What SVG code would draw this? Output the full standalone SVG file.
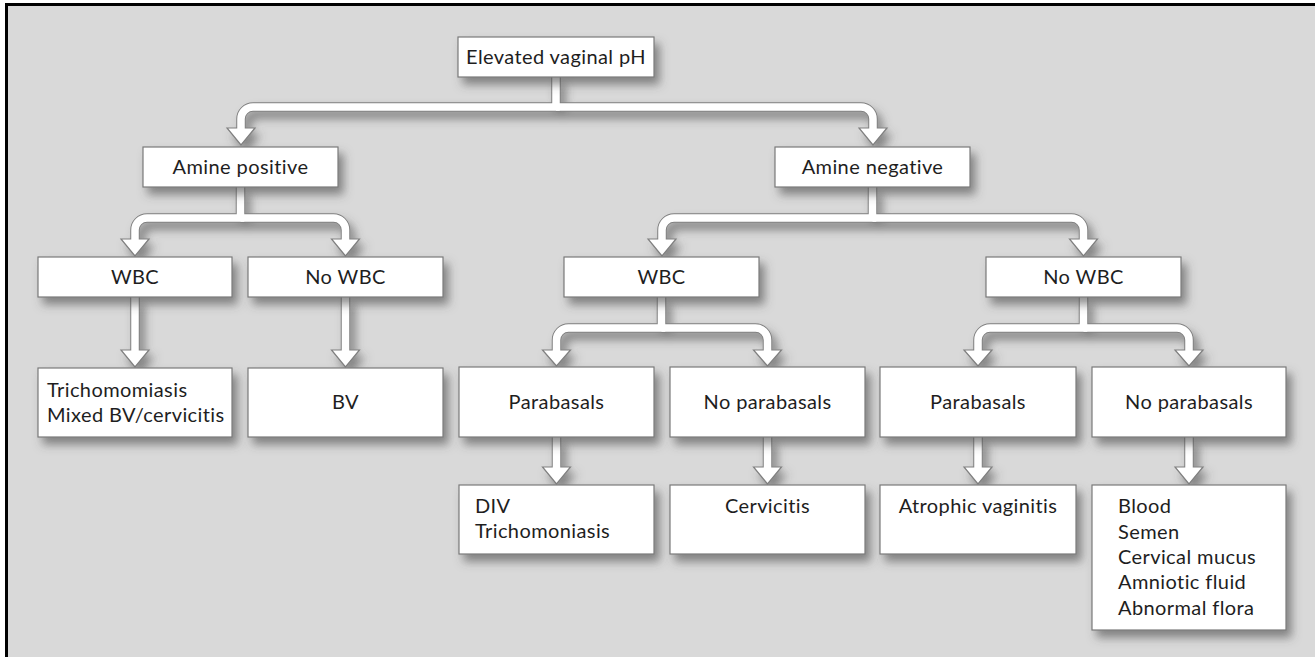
<svg xmlns="http://www.w3.org/2000/svg" width="1315" height="657" viewBox="0 0 1315 657">
<defs>
<filter id="sh" x="-20%" y="-20%" width="150%" height="170%">
<feDropShadow dx="5" dy="7" stdDeviation="5" flood-color="#4a4a4a" flood-opacity="0.6"/>
</filter>
<style>
.box{fill:#fff;stroke:#7a7a7a;stroke-width:1.2}
.t{font-family:Lato,"Open Sans","Liberation Sans",sans-serif;font-size:20px;letter-spacing:0.4px;fill:#1e1e1e}
.c{text-anchor:middle}
.o{fill:none;stroke:#808080;stroke-width:9.5}
.i{fill:none;stroke:#fff;stroke-width:7.5}
.ah{fill:#fff;stroke:#808080;stroke-width:1.2;stroke-linejoin:miter}
</style>
</defs>
<rect width="1315" height="657" fill="#fff"/>
<rect x="5" y="3" width="1310" height="654" fill="#d9d9d9"/>
<line x1="5" y1="4.5" x2="1315" y2="4.5" stroke="#000" stroke-width="3"/>
<line x1="6.5" y1="3" x2="6.5" y2="657" stroke="#000" stroke-width="3"/>

<g id="connectors">
<g filter="url(#sh)">
<g class="o">
<path d="M556,77 V107 H253 A12,12 0 0 0 241,119 V131"/>
<path d="M556,107 H861 A12,12 0 0 1 873,119 V131"/>
<path d="M240.5,187 V218 H147 A12,12 0 0 0 135,230 V241"/>
<path d="M240.5,218 H333.5 A12,12 0 0 1 345.5,230 V241"/>
<path d="M872.5,187 V218 H674 A12,12 0 0 0 662,230 V241"/>
<path d="M872.5,218 H1071.5 A12,12 0 0 1 1083.5,230 V241"/>
<path d="M135,297 V352"/>
<path d="M345.5,297 V352"/>
<path d="M661.5,297 V328 H568.5 A12,12 0 0 0 556.5,340 V352"/>
<path d="M661.5,328 H755.5 A12,12 0 0 1 767.5,340 V352"/>
<path d="M1083.5,297 V328 H990 A12,12 0 0 0 978,340 V352"/>
<path d="M1083.5,328 H1177 A12,12 0 0 1 1189,340 V352"/>
<path d="M556.5,437 V469"/>
<path d="M767.5,437 V469"/>
<path d="M978,437 V469"/>
<path d="M1189,437 V469"/>
</g>
<g class="ah">
<polygon points="227,128 255,128 241,145"/>
<polygon points="859,128 887,128 873,145"/>
<polygon points="121,239 149,239 135,256"/>
<polygon points="331.5,239 359.5,239 345.5,256"/>
<polygon points="648,239 676,239 662,256"/>
<polygon points="1069.5,239 1097.5,239 1083.5,256"/>
<polygon points="121,350 149,350 135,367"/>
<polygon points="331.5,350 359.5,350 345.5,367"/>
<polygon points="542.5,350 570.5,350 556.5,366"/>
<polygon points="753.5,350 781.5,350 767.5,366"/>
<polygon points="964,350 992,350 978,366"/>
<polygon points="1175,350 1203,350 1189,366"/>
<polygon points="542.5,467 570.5,467 556.5,484"/>
<polygon points="753.5,467 781.5,467 767.5,484"/>
<polygon points="964,467 992,467 978,484"/>
<polygon points="1175,467 1203,467 1189,484"/>
</g>
</g>
<g class="i">
<path d="M556,76 V107 H253 A12,12 0 0 0 241,119 V131"/>
<path d="M556,107 H861 A12,12 0 0 1 873,119 V131"/>
<path d="M240.5,186 V218 H147 A12,12 0 0 0 135,230 V241"/>
<path d="M240.5,218 H333.5 A12,12 0 0 1 345.5,230 V241"/>
<path d="M872.5,186 V218 H674 A12,12 0 0 0 662,230 V241"/>
<path d="M872.5,218 H1071.5 A12,12 0 0 1 1083.5,230 V241"/>
<path d="M135,296 V352"/>
<path d="M345.5,296 V352"/>
<path d="M661.5,296 V328 H568.5 A12,12 0 0 0 556.5,340 V352"/>
<path d="M661.5,328 H755.5 A12,12 0 0 1 767.5,340 V352"/>
<path d="M1083.5,296 V328 H990 A12,12 0 0 0 978,340 V352"/>
<path d="M1083.5,328 H1177 A12,12 0 0 1 1189,340 V352"/>
<path d="M556.5,436 V469"/>
<path d="M767.5,436 V469"/>
<path d="M978,436 V469"/>
<path d="M1189,436 V469"/>
</g>
</g>

<g id="n-root"><rect class="box" filter="url(#sh)" x="458" y="37" width="196" height="40"/><text class="t c" x="556" y="64">Elevated vaginal pH</text></g>
<g id="n-amine-pos"><rect class="box" filter="url(#sh)" x="143" y="147" width="195" height="40"/><text class="t c" x="240.5" y="174">Amine positive</text></g>
<g id="n-amine-neg"><rect class="box" filter="url(#sh)" x="775" y="147" width="195" height="40"/><text class="t c" x="872.5" y="174">Amine negative</text></g>
<g id="n-wbc-l"><rect class="box" filter="url(#sh)" x="38" y="257" width="194" height="40"/><text class="t c" x="135" y="284">WBC</text></g>
<g id="n-nowbc-l"><rect class="box" filter="url(#sh)" x="248" y="257" width="195" height="40"/><text class="t c" x="345.5" y="284">No WBC</text></g>
<g id="n-wbc-r"><rect class="box" filter="url(#sh)" x="564" y="257" width="195" height="40"/><text class="t c" x="661.5" y="284">WBC</text></g>
<g id="n-nowbc-r"><rect class="box" filter="url(#sh)" x="986" y="257" width="195" height="40"/><text class="t c" x="1083.5" y="284">No WBC</text></g>
<g id="n-tricho"><rect class="box" filter="url(#sh)" x="38" y="368" width="194" height="69"/><text class="t" x="47" y="397">Trichomomiasis</text><text class="t" x="47" y="422">Mixed BV/cervicitis</text></g>
<g id="n-bv"><rect class="box" filter="url(#sh)" x="248" y="368" width="195" height="69"/><text class="t c" x="345.5" y="409">BV</text></g>
<g id="n-para1"><rect class="box" filter="url(#sh)" x="459" y="367" width="195" height="70"/><text class="t c" x="556.5" y="409">Parabasals</text></g>
<g id="n-nopara1"><rect class="box" filter="url(#sh)" x="670" y="367" width="195" height="70"/><text class="t c" x="767.5" y="409">No parabasals</text></g>
<g id="n-para2"><rect class="box" filter="url(#sh)" x="880" y="367" width="196" height="70"/><text class="t c" x="978" y="409">Parabasals</text></g>
<g id="n-nopara2"><rect class="box" filter="url(#sh)" x="1092" y="367" width="194" height="70"/><text class="t c" x="1189" y="409">No parabasals</text></g>
<g id="n-div"><rect class="box" filter="url(#sh)" x="459" y="485" width="195" height="69"/><text class="t" x="475" y="513">DIV</text><text class="t" x="475" y="538">Trichomoniasis</text></g>
<g id="n-cerv"><rect class="box" filter="url(#sh)" x="670" y="485" width="195" height="69"/><text class="t c" x="767.5" y="513">Cervicitis</text></g>
<g id="n-atroph"><rect class="box" filter="url(#sh)" x="880" y="485" width="196" height="69"/><text class="t c" x="978" y="513">Atrophic vaginitis</text></g>
<g id="n-other"><rect class="box" filter="url(#sh)" x="1092" y="485" width="194" height="145"/><text class="t" x="1118" y="513">Blood</text><text class="t" x="1118" y="539">Semen</text><text class="t" x="1118" y="564">Cervical mucus</text><text class="t" x="1118" y="589">Amniotic fluid</text><text class="t" x="1118" y="615">Abnormal flora</text></g>
</svg>
